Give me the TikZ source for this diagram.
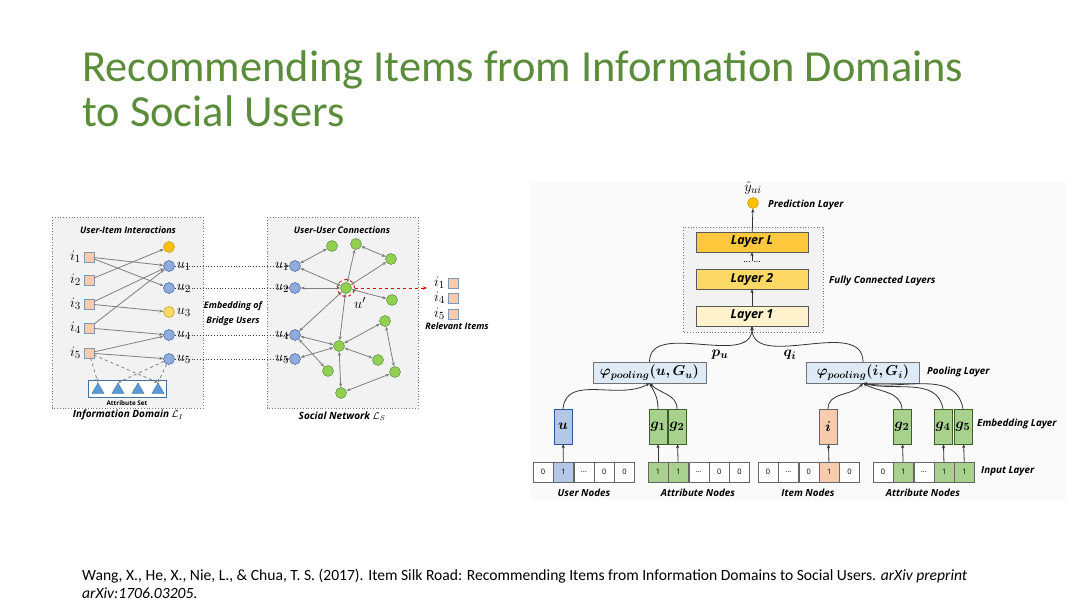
\documentclass[tikz,border=0pt]{standalone}
\usepackage{amsmath}
\usepackage{amssymb}
\usepackage{bm}
\usepackage{fontspec}
\setmainfont{Carlito}
\newfontfamily\labfont{Open Sans}
\usetikzlibrary{positioning,arrows.meta,shapes.geometric}

\definecolor{titlegreen}{HTML}{5B8C3A}
\definecolor{itemfill}{HTML}{F8CBAD}
\definecolor{itemline}{HTML}{8497B0}
\definecolor{userfill}{HTML}{8FAADC}
\definecolor{userline}{HTML}{2F5597}
\definecolor{goldfill}{HTML}{FFC000}
\definecolor{goldline}{HTML}{BF9000}
\definecolor{yellowfill}{HTML}{FFD966}
\definecolor{greenfill}{HTML}{92D050}
\definecolor{greenline}{HTML}{507E32}
\definecolor{attrfill}{HTML}{5B9BD5}
\definecolor{attrline}{HTML}{41719C}
\definecolor{panelgray}{HTML}{F2F2F2}
\definecolor{arrgray}{HTML}{7F7F7F}
\definecolor{ufill}{HTML}{B4C7E7}
\definecolor{gfill}{HTML}{A9D18E}
\definecolor{gline}{HTML}{3B5E2B}
\definecolor{poolfill}{HTML}{DEEBF7}
\definecolor{layerLfill}{HTML}{FFC83D}
\definecolor{layertwofill}{HTML}{FFD966}
\definecolor{layeronefill}{HTML}{FFF2CC}

\begin{document}
\begin{tikzpicture}[x=1pt,y=-1pt,>={Stealth[length=4pt,width=3.2pt]},
  item/.style={draw=itemline,fill=itemfill,minimum size=9.5pt,inner sep=0pt},
  user/.style={circle,draw=userline,fill=userfill,minimum size=11pt,inner sep=0pt},
  gold/.style={circle,draw=goldline,fill=goldfill,minimum size=11pt,inner sep=0pt},
  soc/.style={circle,draw=greenline,fill=greenfill,minimum size=11pt,inner sep=0pt},
  attr/.style={regular polygon,regular polygon sides=3,draw=attrline,fill=attrfill,minimum size=14pt,inner sep=0pt},
  panel/.style={draw=black!55,dotted,fill=panelgray,line width=0.8pt},
  lab/.style={font={\labfont\bfseries\itshape\fontsize{9}{10}\selectfont},inner sep=0pt},
  rlab/.style={font={\labfont\bfseries\itshape\fontsize{9.8}{11}\selectfont},inner sep=0pt},
  labbig/.style={font={\labfont\bfseries\itshape\fontsize{10}{11}\selectfont},inner sep=0pt},
  mlab/.style={font={\fontsize{15}{16}\selectfont},inner sep=0pt},
  arr/.style={->,draw=arrgray,line width=0.8pt},
  darr/.style={<->,draw=arrgray,line width=0.8pt},
  dasharr/.style={->,draw=arrgray,dashed,line width=0.8pt},
  bridge/.style={->,draw=black!75,dotted,line width=0.8pt},
  blk/.style={->,draw=black!80,line width=0.8pt},
  fclayer/.style={draw=black!65,minimum width=112pt,minimum height=20pt,inner sep=0pt,
    font={\labfont\bfseries\itshape\fontsize{12.5}{13}\selectfont}},
  pool/.style={draw=black!55,fill=poolfill,minimum width=113pt,minimum height=21pt,inner sep=0pt,
    font={\fontsize{14.5}{15}\selectfont}},
  emb/.style={minimum width=18pt,minimum height=35pt,inner sep=0pt,font={\fontsize{15}{16}\selectfont}},
  incell/.style={draw=black!60,fill=white,minimum width=20pt,minimum height=20pt,inner sep=0pt,
    font={\labfont\fontsize{7.5}{8}\selectfont}}]
\useasboundingbox (0,0) rectangle (1080,607);
\fill[white] (0,0) rectangle (1080,607);
\fill[black!2] (530,182) rectangle (1066,500);

% title and reference
\node (title1) [anchor=base west,inner sep=0pt,text=titlegreen,font={\fontsize{44.4}{48}\selectfont}] at (82,82) {Recommending Items from Information Domains};
\node (title2) [anchor=base west,inner sep=0pt,text=titlegreen,font={\fontsize{44.4}{48}\selectfont}] at (82,127) {to Social Users};
\node (ref1) [anchor=base west,inner sep=0pt,font={\fontsize{15.6}{18}\selectfont}] at (82,580) {Wang, X., He, X., Nie, L., \& Chua, T. S. (2017). Item Silk Road: Recommending Items from Information Domains to Social Users. \textit{arXiv preprint}};
\node (ref2) [anchor=base west,inner sep=0pt,font={\fontsize{15.6}{18}\selectfont}] at (82,598) {\textit{arXiv:1706.03205}.};

% information domain
\draw[panel] (52,217) rectangle (203,408);
\draw[panel] (267,217) rectangle (418,408);
\node (uiTitle) [lab] at (128,230) {User-Item Interactions};
\node (i1) [item] at (89,257) {};
\node (i2) [item] at (89,280) {};
\node (i3) [item] at (89,304) {};
\node (i4) [item] at (89,328) {};
\node (i5) [item] at (89,353) {};
\node (i1lab) [mlab,left=3pt of i1] {$i_1$};
\node (i2lab) [mlab,left=3pt of i2] {$i_2$};
\node (i3lab) [mlab,left=3pt of i3] {$i_3$};
\node (i4lab) [mlab,left=3pt of i4] {$i_4$};
\node (i5lab) [mlab,left=3pt of i5] {$i_5$};
\node (u0) [gold] at (169,247) {};
\node (u1) [user] at (169,266) {};
\node (u2) [user] at (169,288) {};
\node (u3) [gold,fill=yellowfill] at (169,312) {};
\node (u4) [user] at (169,335) {};
\node (u5) [user] at (169,359) {};
\path (i1) edge [arr] (u1) edge [arr] (u2);
\path (i2) edge [arr] (u0);
\path (i3) edge [arr] (u1) edge [arr] (u3);
\path (i4) edge [arr] (u1) edge [arr] (u4);
\path (i5) edge [arr] (u4) edge [arr] (u5);
\node (attrset) [draw=attrline,fill=white,minimum width=78pt,minimum height=17pt,inner sep=0pt] at (127,388.5) {};
\node (t1) [attr] at (98,390) {};
\node (t2) [attr] at (118,390) {};
\node (t3) [attr] at (138,390) {};
\node (t4) [attr] at (158,390) {};
\path (i5) edge [dasharr] (t1.north) edge [dasharr] (t4.north);
\path (u5) edge [dasharr] (t2.north) edge [dasharr] (t4.north);
\node (attrLab) [inner sep=0pt,font={\labfont\bfseries\fontsize{6.3}{7}\selectfont}] at (127,403) {Attribute Set};
\node (idLab) [labbig] at (128,415) {Information Domain $\mathcal{L}_I$};

% social network
\node (snTitle) [lab] at (342,230) {User-User Connections};
\node (ru1) [user] at (295,266) {};
\node (ru2) [user] at (295,288) {};
\node (ru4) [user] at (295,335) {};
\node (ru5) [user] at (295,359) {};
\node (ga) [soc] at (332,246) {};
\node (gb) [soc] at (356,244) {};
\node (gc) [soc] at (391,259) {};
\node (up) [soc] at (346,288) {};
\node (gd) [soc] at (392,300) {};
\node (ge) [soc] at (385,321) {};
\node (gf) [soc] at (339,346) {};
\node (gg) [soc] at (378,360) {};
\node (gh) [soc] at (328,371) {};
\node (gi) [soc] at (395,372) {};
\node (gj) [soc] at (341,393) {};
\path (ru1) edge [darr] (ga) edge [darr] (up);
\path (ru2) edge [darr] (up);
\path (gb) edge [darr] (up) edge [darr] (gc);
\path (gc) edge [darr] (up);
\path (up) edge [darr] (gd) edge [darr] (ru4) edge [darr] (gf);
\path (ru4) edge [darr] (gf) edge [darr] (gh);
\path (ru5) edge [darr] (gf);
\path (gf) edge [darr] (ge) edge [darr] (gg) edge [darr] (gj);
\path (ge) edge [darr] (gi);
\path (gi) edge [darr] (gj);
\draw[bridge] (u1) -- (ru1);
\draw[bridge] (u2) -- (ru2);
\draw[bridge] (u4) -- (ru4);
\draw[bridge] (u5) -- (ru5);
\node (u1lab) [mlab,right=2pt of u1] {$u_1$};
\node (u2lab) [mlab,right=2pt of u2] {$u_2$};
\node (u3lab) [mlab,right=2pt of u3] {$u_3$};
\node (u4lab) [mlab,right=2pt of u4] {$u_4$};
\node (u5lab) [mlab,right=2pt of u5] {$u_5$};
\node (ru1lab) [mlab,left=0pt of ru1] {$u_1$};
\node (ru2lab) [mlab,left=0pt of ru2] {$u_2$};
\node (ru4lab) [mlab,left=0pt of ru4] {$u_4$};
\node (ru5lab) [mlab,left=0pt of ru5] {$u_5$};
\node (uplab) [mlab] at (360,303) {$u'$};
\draw[red!85!black,dashed,line width=0.8pt] (up) circle [radius=8.5pt];
\coordinate (relEnd) at (427,288);
\draw[->,red!85!black,dashed,line width=0.8pt] ([xshift=8.5pt]up.center) -- (relEnd);
\node (embA) [lab] at (233,306) {Embedding of};
\node (embB) [lab] at (233,321) {Bridge Users};
\node (snLab) [labbig] at (342,416) {Social Network $\mathcal{L}_S$};

% relevant items
\node (r1) [item] at (453,283) {};
\node (r4) [item] at (453,298) {};
\node (r5) [item] at (453,314) {};
\node (r1lab) [mlab,left=3pt of r1] {$i_1$};
\node (r4lab) [mlab,left=3pt of r4] {$i_4$};
\node (r5lab) [mlab,left=3pt of r5] {$i_5$};
\node (relLab) [lab] at (457,326) {Relevant Items};

% prediction and fully connected layers
\node (yhat) [mlab] at (753,188) {$\hat{y}_{ui}$};
\node (pred) [gold] at (753,203) {};
\node (predLab) [rlab,anchor=west] at (768,205) {Prediction Layer};
\draw[panel] (683,227) rectangle (823,332);
\node (layerL) [fclayer,fill=layerLfill] at (752,242) {Layer L};
\node (layer2) [fclayer,fill=layertwofill] at (752,279) {Layer 2};
\node (layer1) [fclayer,fill=layeronefill] at (752,316) {Layer 1};
\node (dots) [inner sep=0pt,font={\labfont\fontsize{9}{9}\selectfont}] at (752,262) {... ...};
\draw[blk] (layerL) -- (pred);
\draw[blk] (layer1) -- (layer2);
\draw[blk] (dots) -- (layerL);
\node (fcLab) [rlab,anchor=west] at (829,281) {Fully Connected Layers};

% pooling layer
\node (pool1) [pool] at (649.5,372.5) {$\boldsymbol{\varphi}_{\boldsymbol{pooling}}\boldsymbol{(u,G_u)}$};
\node (pool2) [pool] at (863,372.5) {$\boldsymbol{\varphi}_{\boldsymbol{pooling}}\boldsymbol{(i,G_i)}$};
\node (poolLab) [rlab,anchor=west] at (927,372) {Pooling Layer};
\node (pu) [mlab] at (720,355) {$\bm{p_u}$};
\node (qi) [mlab] at (790,355) {$\bm{q_i}$};
\draw[blk] (pool1.north) to[out=90,in=-90] (layer1.south);
\draw[blk] (pool2.north) to[out=90,in=-90] (layer1.south);

% embedding layer
\node (eu) [emb,draw=userline,fill=ufill] at (563,426.5) {$\bm{u}$};
\node (eg1) [emb,draw=gline,fill=gfill] at (658,426.5) {$\bm{g_1}$};
\node (eg2) [emb,draw=gline,fill=gfill] at (677,426.5) {$\bm{g_2}$};
\node (ei) [emb,draw=black!60,fill=itemfill] at (828,426.5) {$\bm{i}$};
\node (fg2) [emb,draw=gline,fill=gfill] at (902,426.5) {$\bm{g_2}$};
\node (fg4) [emb,draw=gline,fill=gfill] at (943,426.5) {$\bm{g_4}$};
\node (fg5) [emb,draw=gline,fill=gfill] at (963,426.5) {$\bm{g_5}$};
\node (embLab) [rlab,anchor=west] at (977,424) {Embedding Layer};
\draw[blk] (eu.north) to[out=85,in=-150] (pool1.south);
\draw[blk] (eg1.north) to[out=90,in=-60] (pool1.south);
\draw[blk] (eg2.north) to[out=90,in=-45] (pool1.south);
\draw[blk] (ei.north) to[out=90,in=-130] (pool2.south);
\draw[blk] (fg2.north) to[out=95,in=-30] (pool2.south);
\draw[blk] (fg4.north) to[out=100,in=-15] (pool2.south);
\draw[blk] (fg5.north) to[out=100,in=-10] (pool2.south);

% input layer
\node (a1) [incell] at (543,472) {0};
\node (a2) [incell,fill=ufill,right=0pt of a1] {1};
\node (a3) [incell,right=0pt of a2] {...};
\node (a4) [incell,right=0pt of a3] {0};
\node (a5) [incell,right=0pt of a4] {0};
\node (b1) [incell,fill=gfill] at (658,472) {1};
\node (b2) [incell,fill=gfill,right=0pt of b1] {1};
\node (b3) [incell,right=0pt of b2] {...};
\node (b4) [incell,right=0pt of b3] {0};
\node (b5) [incell,right=0pt of b4] {0};
\node (c1) [incell] at (768,472) {0};
\node (c2) [incell,right=0pt of c1] {...};
\node (c3) [incell,right=0pt of c2] {0};
\node (c4) [incell,fill=itemfill,right=0pt of c3] {1};
\node (c5) [incell,right=0pt of c4] {0};
\node (d1) [incell] at (883,472) {0};
\node (d2) [incell,fill=gfill,right=0pt of d1] {1};
\node (d3) [incell,right=0pt of d2] {...};
\node (d4) [incell,fill=gfill,right=0pt of d3] {1};
\node (d5) [incell,fill=gfill,right=0pt of d4] {1};
\node (inLab) [rlab,anchor=west] at (981,471) {Input Layer};
\draw[blk] (a2) -- (eu);
\draw[blk] (b1) -- (eg1);
\draw[blk] (b2) -- (eg2);
\draw[blk] (c4) -- (ei);
\draw[blk] (d2) -- (fg2);
\draw[blk] (d4) -- (fg4);
\draw[blk] (d5) -- (fg5);
\node (userNodes) [rlab] at (584,493) {User Nodes};
\node (attrNodesA) [rlab] at (698,493) {Attribute Nodes};
\node (itemNodes) [rlab] at (808,493) {Item Nodes};
\node (attrNodesB) [rlab] at (923,493) {Attribute Nodes};
\end{tikzpicture}
\end{document}
